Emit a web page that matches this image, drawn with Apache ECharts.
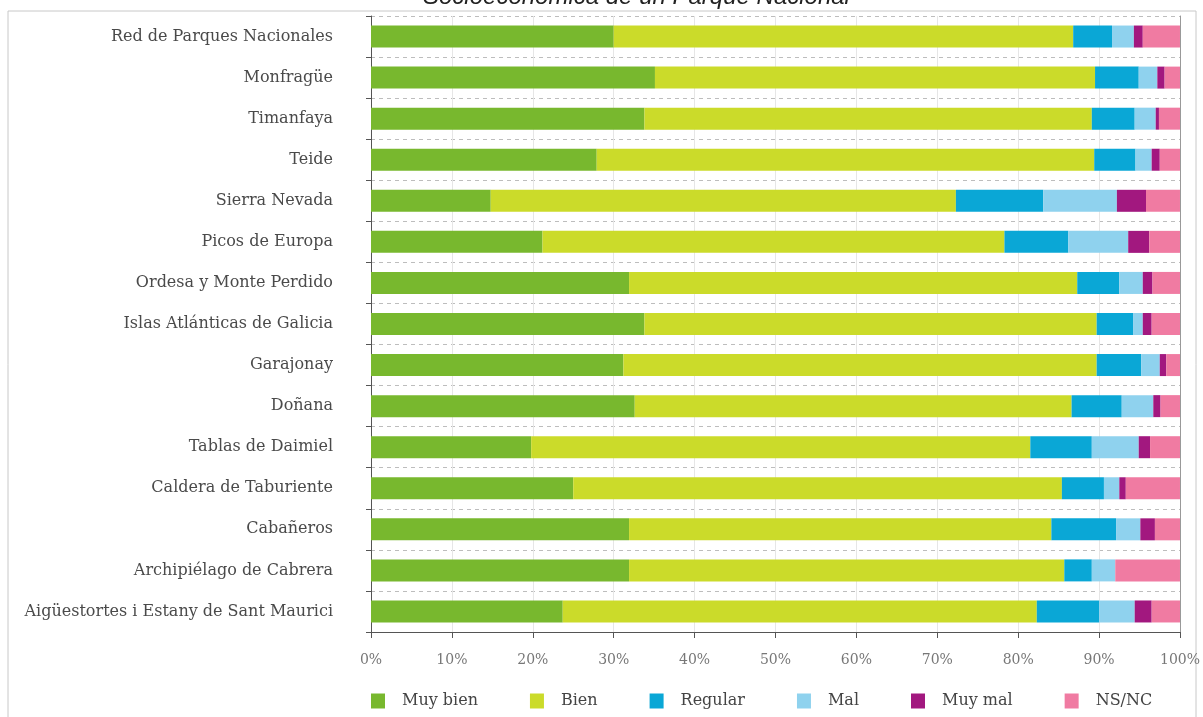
<!DOCTYPE html>
<html>
<head>
<meta charset="utf-8">
<script src="https://cdn.jsdelivr.net/npm/echarts@6/dist/echarts.min.js"></script>
<style>
  html, body { margin: 0; padding: 0; background: #fff; }
  #chart { width: 1203px; height: 717px; }
</style>
</head>
<body>
<div id="chart"></div>
<script>
// categories, top to bottom as drawn
const parks = [
  'Red de Parques Nacionales',
  'Monfragüe',
  'Timanfaya',
  'Teide',
  'Sierra Nevada',
  'Picos de Europa',
  'Ordesa y Monte Perdido',
  'Islas Atlánticas de Galicia',
  'Garajonay',
  'Doñana',
  'Tablas de Daimiel',
  'Caldera de Taburiente',
  'Cabañeros',
  'Archipiélago de Cabrera',
  'Aigüestortes i Estany de Sant Maurici'
];

// percentages per park (same order as parks)
const muyBien = [30.0, 35.1, 33.8, 27.9, 14.8, 21.2, 31.9, 33.8, 31.2, 32.6, 19.8, 25.0, 31.9, 31.9, 23.7];
const bien    = [56.8, 54.4, 55.3, 61.5, 57.5, 57.1, 55.4, 55.9, 58.5, 54.0, 61.7, 60.4, 52.2, 53.8, 58.6];
const regular = [ 4.8,  5.4,  5.3,  5.1, 10.8,  7.9,  5.2,  4.5,  5.5,  6.2,  7.6,  5.2,  8.0,  3.4,  7.7];
const mal     = [ 2.7,  2.3,  2.6,  2.0,  9.1,  7.4,  2.9,  1.2,  2.3,  3.9,  5.8,  1.9,  3.0,  2.9,  4.4];
const muyMal  = [ 1.1,  0.9,  0.4,  1.0,  3.6,  2.6,  1.2,  1.1,  0.8,  0.9,  1.4,  0.8,  1.8,  0.0,  2.1];
const nsnc    = [ 4.6,  1.9,  2.6,  2.5,  4.2,  3.8,  3.4,  3.5,  1.7,  2.4,  3.7,  6.7,  3.1,  8.0,  3.5];

const seriesNames = ['Muy bien', 'Bien', 'Regular', 'Mal', 'Muy mal', 'NS/NC'];
const seriesData = [muyBien, bien, regular, mal, muyMal, nsnc];
const colors = ['#78b82e', '#cbdb2a', '#0aa7d6', '#8fd2ee', '#a2187f', '#f07ba2'];

const serif = '"DejaVu Serif", "Liberation Serif", serif';

const chart = echarts.init(document.getElementById('chart'));

chart.setOption({
  color: colors,
  animation: false,
  title: {
    text: 'Socioeconómica de un Parque Nacional',
    left: 418,
    top: -20,
    textStyle: {
      fontFamily: '"Liberation Sans", Arial, sans-serif',
      fontStyle: 'italic',
      fontWeight: 'normal',
      fontSize: 24,
      color: '#222'
    }
  },
  graphic: [{
    type: 'rect',
    shape: { x: 8, y: 11, width: 1188, height: 720 },
    style: { fill: 'none', stroke: '#c8c8c8', lineWidth: 1 },
    z: -1
  }],
  grid: { left: 371, right: 22, top: 16, bottom: 85 },
  legend: {
    left: 366,
    top: 688,
    itemWidth: 14,
    itemHeight: 15,
    itemGap: 52,
    icon: 'rect',
    textStyle: {
      fontFamily: serif,
      fontSize: 16,
      color: '#444',
      padding: [0, 0, 0, 12]
    },
    data: seriesNames
  },
  xAxis: {
    type: 'value',
    min: 0,
    max: 100,
    interval: 10,
    axisLine: { show: true, lineStyle: { color: '#555', width: 1 } },
    axisTick: { show: true, length: 6, lineStyle: { color: '#555' } },
    axisLabel: {
      formatter: '{value}%',
      fontFamily: serif,
      fontSize: 14,
      color: '#777',
      margin: 21
    },
    splitLine: { show: true, lineStyle: { color: '#e6e6e6', width: 1 } }
  },
  yAxis: [{
    type: 'category',
    inverse: true,
    data: parks,
    axisLine: { show: true, lineStyle: { color: '#555' } },
    axisTick: { show: true, length: 5, lineStyle: { color: '#555' } },
    axisLabel: {
      fontFamily: serif,
      fontSize: 16,
      color: '#4a4a4a',
      margin: 38
    },
    splitLine: { show: true, lineStyle: { color: '#bdbdbd', type: [4, 4], width: 1 } }
  }, {
    type: 'category',
    inverse: true,
    position: 'right',
    data: parks,
    axisLine: { show: true, lineStyle: { color: '#999' } },
    axisTick: { show: false },
    axisLabel: { show: false },
    splitLine: { show: false }
  }],
  series: seriesNames.map((name, i) => ({
    name,
    type: 'bar',
    stack: 'total',
    barWidth: 22,
    data: seriesData[i]
  }))
});
</script>
</body>
</html>
